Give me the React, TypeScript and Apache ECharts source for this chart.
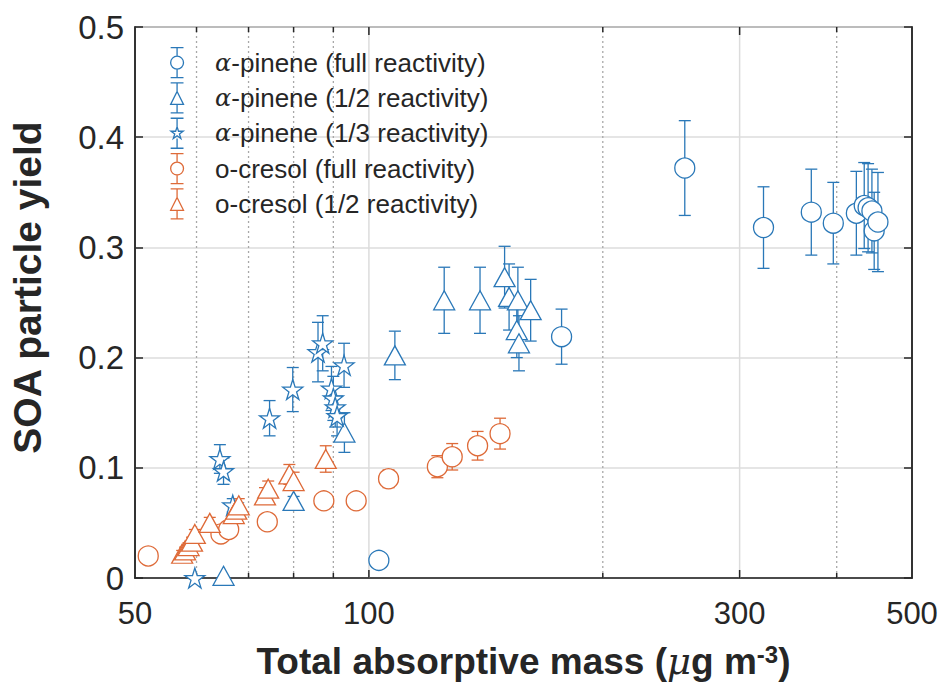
import React, { useEffect, useRef } from "react";
import * as echarts from "echarts";

// ---------- data ----------
const apFullX = [103, 177, 255, 322, 371, 396, 424, 434, 439, 444, 447, 452];
const apFullY = [0.016, 0.219, 0.372, 0.318, 0.332, 0.322, 0.331, 0.338, 0.336, 0.333, 0.315, 0.323];
const apFullErr = [0.004, 0.025, 0.043, 0.037, 0.039, 0.037, 0.038, 0.039, 0.04, 0.038, 0.035, 0.045];

const apHalfX = [65, 80, 93, 108, 125, 139, 149.5, 151.5, 155.5, 161.5, 155, 156];
const apHalfY = [0.002, 0.07, 0.132, 0.202, 0.252, 0.252, 0.273, 0.255, 0.252, 0.243, 0.225, 0.213];
const apHalfErr = [0.0, 0.004, 0.018, 0.022, 0.03, 0.03, 0.028, 0.03, 0.03, 0.028, 0.025, 0.025];

const apThirdX = [59.7, 64.3, 65.0, 66.8, 74.5, 79.8, 86, 87.2, 89.5, 90, 90.5, 91, 92.9];
const apThirdY = [0.0, 0.108, 0.097, 0.066, 0.145, 0.171, 0.205, 0.213, 0.172, 0.163, 0.155, 0.147, 0.193];
const apThirdErr = [0.0, 0.013, 0.012, 0.006, 0.016, 0.02, 0.027, 0.025, 0.02, 0.02, 0.018, 0.018, 0.02];

const ocFullX = [52, 64.5, 66, 74, 87.5, 96.3, 106, 122.5, 128, 138, 147.5];
const ocFullY = [0.02, 0.04, 0.044, 0.051, 0.07, 0.07, 0.09, 0.101, 0.11, 0.12, 0.131];
const ocFullErr = [0.002, 0.004, 0.004, 0.004, 0.005, 0.005, 0.008, 0.01, 0.012, 0.013, 0.014];

const ocHalfX = [57.5, 58, 58.6, 59.2, 59.7, 62.4, 67, 67.5, 68, 73.5, 74.2, 79, 80, 88];
const ocHalfY = [0.022, 0.025, 0.029, 0.033, 0.04, 0.05, 0.058, 0.062, 0.066, 0.075, 0.081, 0.094, 0.088, 0.108];
const ocHalfErr = [0.003, 0.003, 0.003, 0.004, 0.004, 0.005, 0.005, 0.006, 0.006, 0.007, 0.007, 0.009, 0.008, 0.012];

const seriesNames = [
  "α-pinene (full reactivity)",
  "α-pinene (1/2 reactivity)",
  "α-pinene (1/3 reactivity)",
  "o-cresol (full reactivity)",
  "o-cresol (1/2 reactivity)",
];

const xMajorTicks = [100, 300];
const xMinorTicks = [60, 70, 80, 90, 200, 400];
const xTickLabels = [50, 100, 300, 500];

// ---------- styles ----------
const BLUE = "#2a78b8";
const ORANGE = "#de6a38";
const AXIS = "#262626";
const FONT = "'Liberation Sans', Arial, Helvetica, sans-serif";

const STAR = "path://M50 0 L61.2 34.5 L97.6 34.5 L68.2 55.9 L79.4 90.5 L50 69.1 L20.6 90.5 L31.8 55.9 L2.4 34.5 L38.8 34.5 Z";

const ICON_CIRCLE = "path://M1 1 L13 1 M7 1 L7 9 M1 29 L13 29 M7 29 L7 21 M13 15 A6 6 0 1 1 1 15 A6 6 0 1 1 13 15 Z";
const ICON_TRI = "path://M1 1 L13 1 M7 1 L7 9 M1 29 L13 29 M7 29 L7 21 M7 9 L13 21 L1 21 Z";
const ICON_STAR = "path://M1 1 L13 1 M7 1 L7 9 M1 29 L13 29 M7 29 L7 20 M7 9 L8.34 13.14 L12.71 13.14 L9.18 15.71 L10.53 19.86 L7 17.29 L3.47 19.86 L4.82 15.71 L1.29 13.14 L5.66 13.14 Z";

function errRender(color: string) {
  return (params: any, api: any) => {
    const x = api.value(0);
    const y = api.value(1);
    const e = api.value(2);
    if (!(e > 0)) return { type: "group", children: [] };
    const top = api.coord([x, y + e]);
    const bot = api.coord([x, Math.max(0, y - e)]);
    const hw = 6;
    const style = { stroke: color, lineWidth: 1.3 };
    return {
      type: "group",
      children: [
        { type: "line", shape: { x1: top[0], y1: top[1], x2: bot[0], y2: bot[1] }, style },
        { type: "line", shape: { x1: top[0] - hw, y1: top[1], x2: top[0] + hw, y2: top[1] }, style },
        { type: "line", shape: { x1: bot[0] - hw, y1: bot[1], x2: bot[0] + hw, y2: bot[1] }, style },
      ],
    };
  };
}

function zip3(xs: number[], ys: number[], es: number[]) {
  return xs.map((x, i) => [x, ys[i], es[i]]);
}

export default function App() {
  const ref = useRef<HTMLDivElement>(null);
  useEffect(() => {
    if (!ref.current) return;
    const chart = echarts.init(ref.current, undefined, { renderer: "svg" });

    const groups = [
      { name: seriesNames[0], xs: apFullX, ys: apFullY, es: apFullErr, color: BLUE, symbol: "circle", size: 20, icon: ICON_CIRCLE },
      { name: seriesNames[1], xs: apHalfX, ys: apHalfY, es: apHalfErr, color: BLUE, symbol: "triangle", size: [21, 19], icon: ICON_TRI },
      { name: seriesNames[2], xs: apThirdX, ys: apThirdY, es: apThirdErr, color: BLUE, symbol: STAR, size: 20, icon: ICON_STAR },
      { name: seriesNames[3], xs: ocFullX, ys: ocFullY, es: ocFullErr, color: ORANGE, symbol: "circle", size: 20, icon: ICON_CIRCLE },
      { name: seriesNames[4], xs: ocHalfX, ys: ocHalfY, es: ocHalfErr, color: ORANGE, symbol: "triangle", size: [21, 19], icon: ICON_TRI },
    ];

    const series: any[] = [];

    series.push({
      type: "custom",
      name: "_minor",
      silent: true,
      z: 1,
      data: xMinorTicks.map((v) => [v, 0]),
      encode: { x: 0, y: 1 },
      renderItem: (params: any, api: any) => {
        const v = api.value(0);
        const p0 = api.coord([v, 0]);
        const p1 = api.coord([v, 0.5]);
        return {
          type: "group",
          children: [
            { type: "line", shape: { x1: p0[0], y1: p0[1], x2: p1[0], y2: p1[1] }, style: { stroke: "#a8a8a8", lineWidth: 1.3, lineDash: [2, 3] } },
            { type: "line", shape: { x1: p0[0], y1: p0[1], x2: p0[0], y2: p0[1] - 5 }, style: { stroke: AXIS, lineWidth: 1.5 } },
            { type: "line", shape: { x1: p1[0], y1: p1[1], x2: p1[0], y2: p1[1] + 5 }, style: { stroke: AXIS, lineWidth: 1.5 } },
          ],
        };
      },
    });
    series.push({
      type: "custom",
      name: "_major",
      silent: true,
      z: 1,
      data: xMajorTicks.map((v) => [v, 0]),
      encode: { x: 0, y: 1 },
      renderItem: (params: any, api: any) => {
        const v = api.value(0);
        const p0 = api.coord([v, 0]);
        const p1 = api.coord([v, 0.5]);
        return {
          type: "group",
          children: [
            { type: "line", shape: { x1: p0[0], y1: p0[1], x2: p1[0], y2: p1[1] }, style: { stroke: "#dcdcdc", lineWidth: 1.5 } },
            { type: "line", shape: { x1: p0[0], y1: p0[1], x2: p0[0], y2: p0[1] - 8 }, style: { stroke: AXIS, lineWidth: 1.5 } },
            { type: "line", shape: { x1: p1[0], y1: p1[1], x2: p1[0], y2: p1[1] + 8 }, style: { stroke: AXIS, lineWidth: 1.5 } },
          ],
        };
      },
    });
    series.push({
      type: "custom",
      name: "_labels",
      silent: true,
      z: 5,
      data: xTickLabels.map((v) => [v, 0]),
      encode: { x: 0, y: 1 },
      renderItem: (params: any, api: any) => {
        const v = api.value(0);
        const p0 = api.coord([v, 0]);
        return {
          type: "text",
          x: p0[0],
          y: p0[1] + 20,
          style: { text: String(v), fontSize: 31, fontFamily: FONT, fill: AXIS, align: "center", verticalAlign: "top" },
        };
      },
    });

    groups.forEach((g) => {
      series.push({
        type: "custom",
        name: g.name,
        z: 2,
        silent: true,
        data: zip3(g.xs, g.ys, g.es),
        encode: { x: 0, y: 1 },
        renderItem: errRender(g.color),
      });
    });
    groups.forEach((g) => {
      series.push({
        type: "scatter",
        name: g.name,
        z: 3,
        symbol: g.symbol,
        symbolSize: g.size,
        data: g.xs.map((x, i) => [x, g.ys[i]]),
        itemStyle: { color: "#ffffff", borderColor: g.color, borderWidth: 1.3, opacity: 1 },
      });
    });

    chart.setOption({
      animation: false,
      grid: { left: 130, right: 31, top: 27, bottom: 114, show: true, borderColor: AXIS, borderWidth: 1.5, backgroundColor: "#ffffff" },
      legend: {
        orient: "vertical",
        left: 165,
        top: 42,
        itemWidth: 14,
        itemHeight: 30,
        itemGap: 4,
        selectedMode: false,
        data: groups.map((g) => ({
          name: g.name,
          icon: g.icon,
          itemStyle: { color: "#ffffff", borderColor: g.color, borderWidth: 1.3 },
        })),
        formatter: (name: string) =>
          name.charAt(0) === "α" ? `{s|}{g|α}{t|${name.slice(1)}}` : `{s|}{t|${name}}`,
        textStyle: {
          color: AXIS,
          fontFamily: FONT,
          fontSize: 26,
          rich: {
            s: { width: 26 },
            g: { fontFamily: "'DejaVu Serif', 'Liberation Serif', serif", fontStyle: "italic", fontSize: 24, color: AXIS },
            t: { fontSize: 26, fontFamily: FONT, color: AXIS },
          },
        },
      },
      xAxis: {
        type: "log",
        logBase: 10,
        min: 50,
        max: 500,
        axisLine: { show: true, lineStyle: { color: AXIS, width: 1.5 } },
        axisTick: { show: false },
        axisLabel: { show: false },
        splitLine: { show: false },
        minorTick: { show: false },
        minorSplitLine: { show: false },
        name: "{b|Total absorptive mass (}{mu|μ}{b|g m}{sup|-3}{b|)}",
        nameLocation: "middle",
        nameGap: 64,
        nameTextStyle: {
          rich: {
            b: { fontSize: 37, fontWeight: "bold", fontFamily: FONT, color: AXIS },
            mu: { fontSize: 37, fontStyle: "italic", fontFamily: "'DejaVu Serif', 'Liberation Serif', serif", color: AXIS },
            sup: { fontSize: 24, fontWeight: "bold", fontFamily: FONT, color: AXIS, verticalAlign: "top", padding: [0, 0, 15, 0] },
          },
        },
      },
      yAxis: [
        {
          type: "value",
          min: 0,
          max: 0.5,
          interval: 0.1,
          position: "left",
          axisLine: { show: true, lineStyle: { color: AXIS, width: 1.5 } },
          axisTick: { show: true, inside: true, length: 8, lineStyle: { color: AXIS, width: 1.5 } },
          axisLabel: { fontSize: 33, color: AXIS, fontFamily: FONT, margin: 11 },
          splitLine: { show: true, lineStyle: { color: "#dcdcdc", width: 1.5 } },
          name: "SOA particle yield",
          nameLocation: "middle",
          nameGap: 88,
          nameRotate: 90,
          nameTextStyle: { fontSize: 39, fontWeight: "bold", color: AXIS, fontFamily: FONT, padding: [0, 0, 0, 30] },
        },
        {
          type: "value",
          min: 0,
          max: 0.5,
          interval: 0.1,
          position: "right",
          axisLine: { show: true, lineStyle: { color: AXIS, width: 1.5 } },
          axisTick: { show: true, inside: true, length: 8, lineStyle: { color: AXIS, width: 1.5 } },
          axisLabel: { show: false },
          splitLine: { show: false },
        },
      ],
      series,
    });
    return () => chart.dispose();
  }, []);
  return <div ref={ref} style={{ position: "fixed", left: 0, top: 0, width: 943, height: 692, background: "#fff" }} />;
}
